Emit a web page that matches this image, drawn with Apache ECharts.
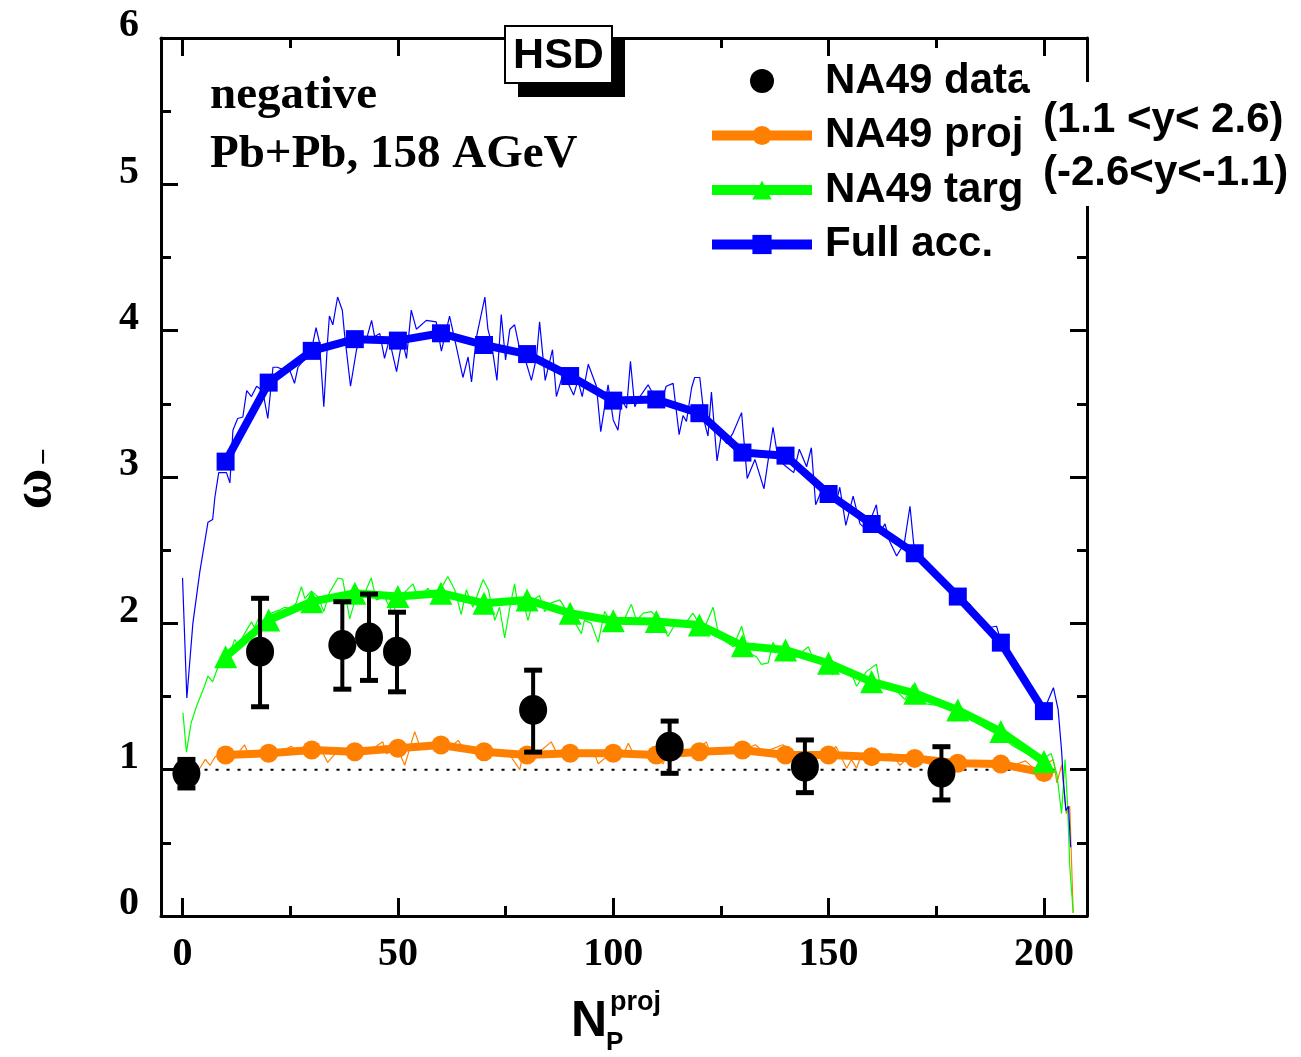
<!DOCTYPE html>
<html><head><meta charset="utf-8">
<script src="https://cdn.jsdelivr.net/npm/echarts@6/dist/echarts.min.js"></script>
<style>html,body{margin:0;padding:0;background:#fff}#c{width:1301px;height:1057px}</style>
</head><body><div id="c"></div>
<script>
// ---- tick labels ----
const xMajorTicks = [0, 50, 100, 150, 200];
const xMinorTicks = [25, 75, 125, 175];

// ---- NA49 data (black circles with error bars) ----
const dataN    = [0.9, 18.0, 37.1, 43.3, 49.8, 81.4, 113.1, 144.5, 176.2];
const dataW    = [0.975, 1.806, 1.852, 1.904, 1.806, 1.408, 1.157, 1.02, 0.979];
const dataLow  = [0.875, 1.43, 1.55, 1.61, 1.532, 1.12, 0.975, 0.843, 0.793];
const dataHigh = [1.07, 2.171, 2.148, 2.20, 2.076, 1.68, 1.332, 1.203, 1.157];

// ---- HSD model points (thick lines with symbols) ----
const modelN   = [10,20,30,40,50,60,70,80,90,100,110,120,130,140,150,160,170,180,190,200];
const fullAcc  = [3.105,3.645,3.862,3.942,3.932,3.982,3.902,3.84,3.69,3.522,3.53,3.436,3.167,3.146,2.884,2.679,2.479,2.183,1.868,1.40];
const targW    = [1.772,2.023,2.148,2.206,2.183,2.206,2.137,2.16,2.069,2.018,2.012,1.989,1.846,1.818,1.727,1.60,1.522,1.408,1.26,1.055];
const projW    = [1.10,1.112,1.135,1.123,1.146,1.169,1.123,1.10,1.112,1.112,1.10,1.123,1.135,1.10,1.10,1.089,1.077,1.044,1.038,0.98];

// ---- HSD raw (thin noisy lines), [N, omega] ----
const fullThin = [[0,2.31],[1,1.49],[2.4,2.0],[4,2.35],[5.9,2.69],[7,2.71],[7.5,2.86],[8.4,3.03],[10.2,3.03],[11,2.96],[11.7,3.32],[12.8,3.40],[14,3.41],[14.9,3.59],[16,3.55],[17.2,3.62],[18.6,3.59],[19.8,3.40],[21,3.75],[22,3.75],[23.7,3.73],[24.9,3.73],[26,3.64],[26.8,3.75],[28.7,3.82],[30.3,3.92],[31,4.02],[31.8,3.92],[32.8,3.48],[33.7,3.94],[34.1,4.10],[34.9,4.04],[36,4.23],[37.1,4.14],[37.6,3.98],[39,3.62],[40.4,3.87],[41,3.92],[42.7,3.94],[43.9,4.07],[44.6,3.96],[45.8,3.98],[46.9,3.81],[48,3.94],[49.7,3.72],[51,3.94],[52,3.81],[53.1,4.14],[54.3,4.01],[56.6,4.07],[58.9,4.06],[60.1,3.86],[62,4.10],[63.2,3.94],[65.1,3.68],[66.3,3.82],[67.1,3.65],[68.2,3.95],[70.2,4.23],[70.9,4.01],[71.7,3.92],[73,3.66],[74,4.11],[75,3.80],[76,4.01],[77.1,4.04],[78.3,3.87],[79.4,3.82],[81,3.66],[82.2,3.82],[82.9,4.06],[84.2,3.66],[85.9,3.87],[86.8,3.55],[88.4,3.71],[90.8,3.56],[91.8,3.66],[92.8,3.55],[94.2,3.77],[96.1,3.62],[97.1,3.31],[98.8,3.63],[100,3.39],[101.1,3.32],[101.9,3.53],[103.1,3.47],[104,3.79],[105,3.48],[106.2,3.55],[108.1,3.63],[110.8,3.48],[112.3,3.62],[113.9,3.64],[115.3,3.29],[116.2,3.42],[117,3.38],[118.2,3.61],[118.9,3.68],[120.1,3.68],[121.3,3.36],[122,3.28],[122.8,3.58],[124.1,3.11],[125.1,3.29],[126.3,3.23],[127.8,3.30],[129.8,3.44],[131.1,2.99],[132.9,3.12],[135,2.92],[136,3.12],[137.1,3.34],[138.3,3.12],[140.2,3.07],[141.9,3.03],[143.2,3.19],[144.9,3.07],[146,3.20],[147,2.81],[148.4,2.91],[149.5,2.84],[151.8,2.83],[152.6,2.93],[154,2.67],[155.7,2.87],[157.3,2.68],[158.8,2.64],[161.1,2.81],[161.9,2.62],[163.1,2.68],[164.2,2.56],[165.8,2.46],[167.6,2.55],[168.9,2.80],[170,2.47],[172,2.42],[175,2.34],[178,2.25],[180,2.17],[182.8,2.13],[185,2.03],[187,1.97],[189,1.98],[190,1.88],[192.9,1.70],[195,1.62],[197.5,1.54],[198.5,1.48],[200.5,1.44],[202.2,1.56],[203.3,1.41],[204.1,1.13],[204.5,0.93],[205.1,0.72],[205.7,0.75],[206.2,0.47]];

const targThin = [[0.1,1.39],[0.9,1.12],[2,1.32],[3.2,1.43],[5.1,1.57],[5.9,1.64],[7,1.60],[8.2,1.70],[9,1.74],[11.3,1.82],[12.1,1.89],[12.9,1.85],[14.4,1.93],[16,2.01],[16.7,1.97],[17.9,2.05],[19,1.99],[20.6,2.07],[22.5,2.09],[23.7,2.11],[25.2,2.10],[26.4,2.14],[27.6,2.25],[28.4,2.17],[29.9,2.22],[31.5,2.18],[32.8,2.08],[34.1,2.21],[36.1,2.31],[37.2,2.30],[38.8,2.03],[40.1,2.16],[41.9,2.18],[43.8,2.31],[45,2.16],[46.9,2.18],[48.9,2.06],[50,2.18],[51.5,2.21],[53.5,2.27],[54.7,2.17],[57,2.24],[58.5,2.16],[61.6,2.32],[63.2,2.23],[64.7,2.06],[65.9,2.23],[67.4,2.11],[69.8,2.30],[71,2.23],[72.5,2.02],[73.6,2.11],[74.8,1.90],[76,2.11],[77.1,2.27],[77.9,2.11],[79,2.16],[80.2,2.02],[81.4,2.16],[82.9,2.19],[84.1,2.08],[85.6,2.14],[87.6,2.16],[89.1,2.09],[91.4,1.99],[92.6,1.93],[93.3,2.02],[94.9,2.00],[96.5,1.87],[98,2.08],[99.2,2.02],[102.3,2.01],[104.2,2.13],[105.4,2.02],[107,2.07],[108.9,2.08],[111.2,2.00],[112.7,1.91],[114.7,2.01],[117,2.01],[118.5,2.07],[120.9,1.95],[123.2,2.11],[124.4,1.93],[126.3,1.87],[127.9,1.84],[129.8,1.98],[131.4,1.80],[133.3,1.77],[134.4,1.72],[136,1.73],[137.1,1.87],[138.3,1.80],[141,1.82],[142,1.76],[145.3,1.84],[146.4,1.76],[148.7,1.75],[151,1.65],[153,1.70],[155,1.68],[156.5,1.57],[158.8,1.67],[161.1,1.72],[161.9,1.59],[165,1.56],[167.7,1.48],[169.6,1.58],[172.7,1.45],[177.4,1.43],[180.5,1.41],[183.6,1.34],[186.7,1.28],[189.8,1.23],[192.9,1.16],[196,1.11],[198.3,1.07],[200.6,1.09],[201.7,1.11],[203,0.97],[204.1,0.70],[204.9,1.07],[205.5,0.75],[206,0.34],[206.8,0.02]];

const projThin = [[2.5,0.98],[4,1.01],[5.3,1.07],[6.4,1.03],[7.6,1.09],[10,1.08],[12,1.08],[14.4,1.17],[15.5,1.09],[18,1.10],[20,1.09],[22.9,1.12],[25.2,1.16],[27,1.12],[30,1.13],[31.4,1.18],[33.7,1.05],[36.1,1.13],[40,1.11],[43,1.12],[46.5,1.19],[47.3,1.11],[50,1.14],[51.6,1.03],[53.9,1.26],[55.1,1.16],[58,1.15],[60,1.16],[62,1.15],[64,1.20],[65.6,1.13],[68,1.13],[70,1.12],[73,1.11],[76,1.10],[78.3,1.00],[79,1.10],[82,1.10],[85.6,1.19],[86.8,1.12],[90,1.11],[93,1.11],[95.4,1.13],[96.5,1.04],[99,1.10],[102.3,1.10],[103.5,1.18],[105,1.09],[108,1.10],[111.6,1.04],[112.5,1.12],[116,1.11],[119,1.12],[121.6,1.19],[122.5,1.12],[126,1.12],[130,1.13],[133,1.17],[135,1.12],[139.4,1.17],[142,1.11],[146,1.10],[150,1.09],[151.7,1.16],[154.2,1.01],[155.3,1.07],[156.5,1.01],[157.6,1.10],[160,1.09],[164.6,1.11],[166.6,1.03],[168,1.07],[171.6,1.06],[174,1.03],[177,1.06],[180,1.05],[184.8,1.05],[188,1.03],[192,1.02],[195.7,1.06],[198,1.00],[200.6,1.04],[202.2,1.07],[203,0.91],[204.1,1.03],[205.2,0.70],[206,0.75],[206.8,0.02]];

// reference line omega = 1
const refLine = [[0, 1], [203, 1]];

const BLUE = '#0000FF', GREEN = '#00FF00', ORANGE = '#FF8000';
const SERIF = '"Liberation Serif","Times New Roman",serif';
const SANS = '"Liberation Sans",Arial,sans-serif';

const zip = (a, b) => a.map((v, i) => [v, b[i]]);

const chart = echarts.init(document.getElementById('c'), null, {renderer: 'canvas'});

const axisLineStyle = {color: '#000', width: 3};
function xAx(pos, ticks, len, labels) {
  return {
    type: 'value', position: pos, min: -5, max: 210,
    axisLine: {show: labels !== null, lineStyle: axisLineStyle, onZero: false},
    axisTick: {show: true, inside: true, length: len, customValues: ticks, lineStyle: {color: '#000', width: 3}},
    axisLabel: labels ? {show: true, customValues: labels, color: '#000', fontFamily: SERIF, fontWeight: 'bold', fontSize: 40, margin: 19} : {show: false},
    splitLine: {show: false}, minorTick: {show: false}
  };
}
function yAx(pos, withLabels) {
  return {
    type: 'value', position: pos, min: 0, max: 6, interval: 1,
    axisLine: {show: true, lineStyle: axisLineStyle, onZero: false},
    axisTick: {show: true, inside: true, length: 17, lineStyle: {color: '#000', width: 3}},
    minorTick: {show: true, splitNumber: 2, length: 10, lineStyle: {color: '#000', width: 3}},
    axisLabel: withLabels ? {show: true, color: '#000', fontFamily: SERIF, fontWeight: 'bold', fontSize: 40, margin: 22, verticalAlign: 'bottom', lineHeight: 24} : {show: false},
    splitLine: {show: false}, minorSplitLine: {show: false}
  };
}

const option = {
  animation: false,
  backgroundColor: '#fff',
  grid: {left: 161, right: 214, top: 38, bottom: 141, containLabel: false, outerBoundsMode: 'none'},
  xAxis: [
    xAx('bottom', xMajorTicks, 18, xMajorTicks),
    xAx('bottom', xMinorTicks, 10, null),
    xAx('top', xMajorTicks, 18, false),
    xAx('top', xMinorTicks, 10, null)
  ],
  yAxis: [yAx('left', true), yAx('right', false)],
  legend: {
    orient: 'vertical', left: 702, top: 55, padding: 5,
    itemWidth: 100, itemHeight: 24, itemGap: 12.5, selectedMode: false,
    lineStyle: {width: 10},
    textStyle: {color: '#000', fontFamily: SANS, fontWeight: 'bold', fontSize: 42, lineHeight: 40, padding: [0, 0, 0, 8]},
    data: ['NA49 data', 'NA49 proj', 'NA49 targ', 'Full acc.']
  },
  series: [
    {type: 'line', data: refLine, symbol: 'none', silent: true, lineStyle: {color: '#000', width: 2, type: [3, 8]}, z: 1},
    {type: 'line', data: projThin, symbol: 'none', silent: true, lineStyle: {color: ORANGE, width: 1.2}, z: 2},
    {type: 'line', data: targThin, symbol: 'none', silent: true, lineStyle: {color: GREEN, width: 1.2}, z: 2},
    {type: 'line', data: fullThin, symbol: 'none', silent: true, lineStyle: {color: BLUE, width: 1.2}, z: 2},
    {name: 'NA49 proj', type: 'line', data: zip(modelN, projW), symbol: 'circle', symbolSize: 19,
     itemStyle: {color: ORANGE, opacity: 1}, lineStyle: {color: ORANGE, width: 8}, z: 3},
    {name: 'NA49 targ', type: 'line', data: zip(modelN, targW), symbol: 'triangle', symbolSize: 23,
     itemStyle: {color: GREEN, opacity: 1}, lineStyle: {color: GREEN, width: 8}, z: 3},
    {name: 'Full acc.', type: 'line', data: zip(modelN, fullAcc), symbol: 'rect', symbolSize: 18,
     itemStyle: {color: BLUE, opacity: 1}, lineStyle: {color: BLUE, width: 8}, z: 3},
    {type: 'custom', silent: true, z: 4,
     data: dataN.map((n, i) => [n, dataLow[i], dataHigh[i]]),
     renderItem: function (params, api) {
       const lo = api.coord([api.value(0), api.value(1)]);
       const hi = api.coord([api.value(0), api.value(2)]);
       const c = 9, st = {stroke: '#000', lineWidth: 4};
       return {type: 'group', children: [
         {type: 'line', shape: {x1: lo[0], y1: lo[1], x2: hi[0], y2: hi[1]}, style: st},
         {type: 'line', shape: {x1: lo[0] - c, y1: lo[1], x2: lo[0] + c, y2: lo[1]}, style: {stroke: '#000', lineWidth: 5}},
         {type: 'line', shape: {x1: hi[0] - c, y1: hi[1], x2: hi[0] + c, y2: hi[1]}, style: {stroke: '#000', lineWidth: 5}}
       ]};
     }},
    {name: 'NA49 data', type: 'scatter', data: zip(dataN, dataW), symbol: 'circle', symbolSize: [28, 30],
     itemStyle: {color: '#000', opacity: 1}, z: 5}
  ],
  graphic: [
    {type: 'rect', z: 100, shape: {x: 1030, y: 82, width: 265, height: 124}, style: {fill: '#fff'}},
    {type: 'rect', z: 100, shape: {x: 1022, y: 56, width: 18, height: 28}, style: {fill: '#fff'}},
    {type: 'text', z: 101, x: 1043, y: 120, style: {text: '(1.1 <y< 2.6)', fill: '#000', font: 'bold 42px ' + SANS, textAlign: 'left', textVerticalAlign: 'middle'}},
    {type: 'text', z: 101, x: 1043, y: 173, style: {text: '(-2.6<y<-1.1)', fill: '#000', font: 'bold 42px ' + SANS, textAlign: 'left', textVerticalAlign: 'middle'}},
    {type: 'rect', z: 100, shape: {x: 518, y: 40, width: 107, height: 57}, style: {fill: '#000'}},
    {type: 'rect', z: 101, shape: {x: 505, y: 26, width: 107, height: 57}, style: {fill: '#fff', stroke: '#000', lineWidth: 2}},
    {type: 'text', z: 102, x: 558.5, y: 56, style: {text: 'HSD', fill: '#000', font: 'bold 43px ' + SANS, textAlign: 'center', textVerticalAlign: 'middle'}},
    {type: 'text', z: 101, x: 210, y: 96, style: {text: 'negative', fill: '#000', font: 'bold 47px ' + SERIF, textAlign: 'left', textVerticalAlign: 'middle'}},
    {type: 'text', z: 101, x: 210, y: 155, style: {text: 'Pb+Pb, 158 AGeV', fill: '#000', font: 'bold 47px ' + SERIF, textAlign: 'left', textVerticalAlign: 'middle'}},
    {type: 'text', z: 101, x: 36, y: 489, rotation: Math.PI / 2, style: {text: 'ω', fill: '#000', font: 'bold 56px ' + SERIF, textAlign: 'center', textVerticalAlign: 'middle'}},
    {type: 'text', z: 101, x: 45, y: 457, rotation: Math.PI / 2, style: {text: '−', fill: '#000', font: 'bold 30px ' + SERIF, textAlign: 'center', textVerticalAlign: 'middle'}},
    {type: 'text', z: 101, x: 571, y: 1022, style: {text: 'N', fill: '#000', font: 'bold 50px ' + SANS, textAlign: 'left', textVerticalAlign: 'middle'}},
    {type: 'text', z: 101, x: 610, y: 1003, style: {text: 'proj', fill: '#000', font: 'bold 27px ' + SANS, textAlign: 'left', textVerticalAlign: 'middle'}},
    {type: 'text', z: 101, x: 606, y: 1043, style: {text: 'P', fill: '#000', font: 'bold 26px ' + SANS, textAlign: 'left', textVerticalAlign: 'middle'}}
  ]
};
chart.setOption(option);
</script>
</body></html>
